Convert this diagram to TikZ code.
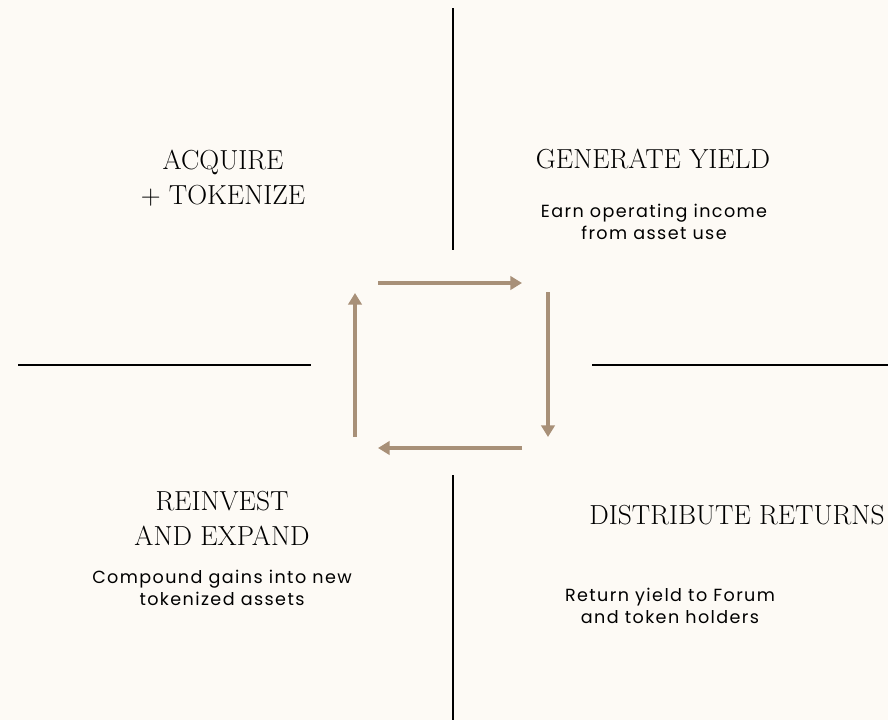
\documentclass[tikz,border=0pt]{standalone}
\usepackage{fontspec}
\newfontfamily\bodyfont[LetterSpace=8]{Poppins}
\usepackage{tikz}
\usetikzlibrary{arrows.meta, positioning}
\definecolor{paper}{HTML}{FDFAF5}
\definecolor{cyclebrown}{HTML}{A89078}
\begin{document}
\begin{tikzpicture}[x=0.03cm, y=-0.03cm,
	divider/.style={draw=black, line width=1.7pt},
	cyclearrow/.style={draw=cyclebrown, line width=3.4pt, -{Triangle[length=10pt, width=11.5pt]}},
	heading/.style={align=center, font=\fontsize{23.5}{30}\selectfont, inner sep=0pt},
	blurb/.style={align=center, font=\bodyfont\fontsize{15}{18.5}\selectfont, inner sep=0pt}]
	\useasboundingbox (0,0) rectangle (888,720);
	\fill[paper] (0,0) rectangle (888,720);

	% dividers
	\coordinate (TopA) at (453,8);
	\coordinate (TopB) at (453,250);
	\coordinate (BotA) at (453,475);
	\coordinate (BotB) at (453,720);
	\coordinate (LeftA) at (18,365);
	\coordinate (LeftB) at (311,365);
	\coordinate (RightA) at (592,365);
	\coordinate (RightB) at (888,365);
	\draw[divider] (TopA) -- (TopB);
	\draw[divider] (BotA) -- (BotB);
	\draw[divider] (LeftA) -- (LeftB);
	\draw[divider] (RightA) -- (RightB);

	% cycle
	\coordinate (N1) at (378,283);
	\coordinate (N2) at (522,283);
	\coordinate (E1) at (548,292);
	\coordinate (E2) at (548,437);
	\coordinate (S1) at (522,448);
	\coordinate (S2) at (378,448);
	\coordinate (W1) at (355,437);
	\coordinate (W2) at (355,293);
	\draw[cyclearrow] (N1) -- (N2);
	\draw[cyclearrow] (E1) -- (E2);
	\draw[cyclearrow] (S1) -- (S2);
	\draw[cyclearrow] (W1) -- (W2);

	% quadrants
	\node[heading] (Acquire) at (223,178) {ACQUIRE\\+ TOKENIZE};
	\node[heading] (Generate) at (653,159) {GENERATE YIELD};
	\node[blurb] (GenerateText) at (654,222) {Earn operating income\\from asset use};
	\node[heading] (Reinvest) at (222,518) {REINVEST\\AND EXPAND};
	\node[blurb] (ReinvestText) at (222,588) {Compound gains into new\\tokenized assets};
	\node[heading] (Distribute) at (737,515) {DISTRIBUTE RETURNS};
	\node[blurb] (DistributeText) at (670,606) {Return yield to Forum\\and token holders};
\end{tikzpicture}
\end{document}
